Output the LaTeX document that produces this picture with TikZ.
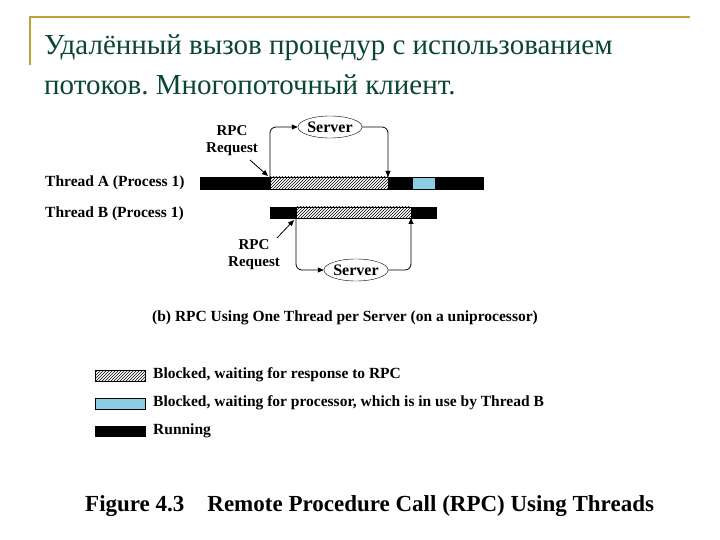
\documentclass[tikz,border=0pt]{standalone}
\usepackage{fontspec}
\setmainfont{Liberation Serif}
\usetikzlibrary{patterns,arrows.meta,shapes.geometric}
\definecolor{gold}{RGB}{190,160,60}
\definecolor{ttl}{RGB}{10,70,50}
\definecolor{wblue}{RGB}{140,205,230}
\frenchspacing
\begin{document}
\begin{tikzpicture}[x=1pt,y=-1pt,
  run/.style={fill=black,draw=black},
  blk/.style={draw=black,pattern=north east lines,pattern color=black},
  wait/.style={draw=black,fill=wblue},
  srv/.style={draw,ellipse,minimum width=62pt,minimum height=22pt,inner sep=0pt,font=\bfseries\fontsize{16}{16}\selectfont},
  lbl/.style={font=\bfseries\fontsize{15.5}{16}\selectfont,anchor=west,inner sep=0pt},
  leg/.style={font=\bfseries\fontsize{15.5}{16}\selectfont,anchor=west,inner sep=0pt},
  conn/.style={thick,rounded corners=6pt,-{Triangle[length=6pt,width=5pt]}},
  req/.style={font=\bfseries\fontsize{15}{17}\selectfont,align=center,inner sep=0pt}]
\useasboundingbox (0,0) rectangle (720,540);
\fill[white] (0,0) rectangle (720,540);
\draw[gold,line width=1.5pt] (30,65) -- (30,17) -- (690,17);
\node[anchor=base west,inner sep=0pt,text=ttl,font=\fontsize{29}{30}\selectfont] (t1) at (44,55) {Удалённый вызов процедур с использованием};
\node[anchor=base west,inner sep=0pt,text=ttl,font=\fontsize{29}{30}\selectfont] (t2) at (44,95) {потоков. Многопоточный клиент.};
% Threads
\node[lbl] (la) at (45,183) {Thread A (Process 1)};
\node[lbl] (lb) at (45,214) {Thread B (Process 1)};
\fill[run] (200,177) rectangle (270,189);
\draw[blk] (270,177) rectangle (388,189);
\fill[run] (388,177) rectangle (412,189);
\draw[wait] (412,177) rectangle (435,189);
\fill[run] (435,177) rectangle (483,189);
\fill[run] (270,207) rectangle (296,218);
\draw[blk] (296,207) rectangle (411,218);
\fill[run] (411,207) rectangle (436,218);
\coordinate (a1) at (270,177); \coordinate (a2) at (388,177);
\coordinate (b1) at (296,218); \coordinate (b2) at (411,218);
\node[srv] (s1) at (330,127) {Server};
\node[srv] (s2) at (356,270) {Server};
\draw[conn] (a1) |- (s1.west);
\draw[conn] (s1.east) -| (a2);
\draw[conn] (b1) |- (s2.west);
\draw[conn] (s2.east) -| (b2);
\node[req] (r1) at (232,141) {RPC\\Request};
\node[req] (r2) at (254,255) {RPC\\Request};
\coordinate (r1e) at (268,176); \coordinate (r2e) at (294,220);
\draw[thick,-{Triangle[length=6pt,width=5pt]}] (250,160) -- (r1e);
\draw[thick,-{Triangle[length=6pt,width=5pt]}] (277,238) -- (r2e);
\node[leg] (cap) at (152,318) {(b) RPC Using One Thread per Server (on a uniprocessor)};
% legend
\draw[blk] (95,370) rectangle (145,381);
\draw[wait] (95,398) rectangle (145,409);
\fill[run] (95,426) rectangle (145,436);
\node[leg] (g1) at (153,375) {Blocked, waiting for response to RPC};
\node[leg] (g2) at (153,403) {Blocked, waiting for processor, which is in use by Thread B};
\node[leg] (g3) at (153,431) {Running};
\node[anchor=west,inner sep=0pt,font=\bfseries\fontsize{23}{24}\selectfont] (fig) at (85,506) {Figure 4.3\quad Remote Procedure Call (RPC) Using Threads};
\end{tikzpicture}
\end{document}
